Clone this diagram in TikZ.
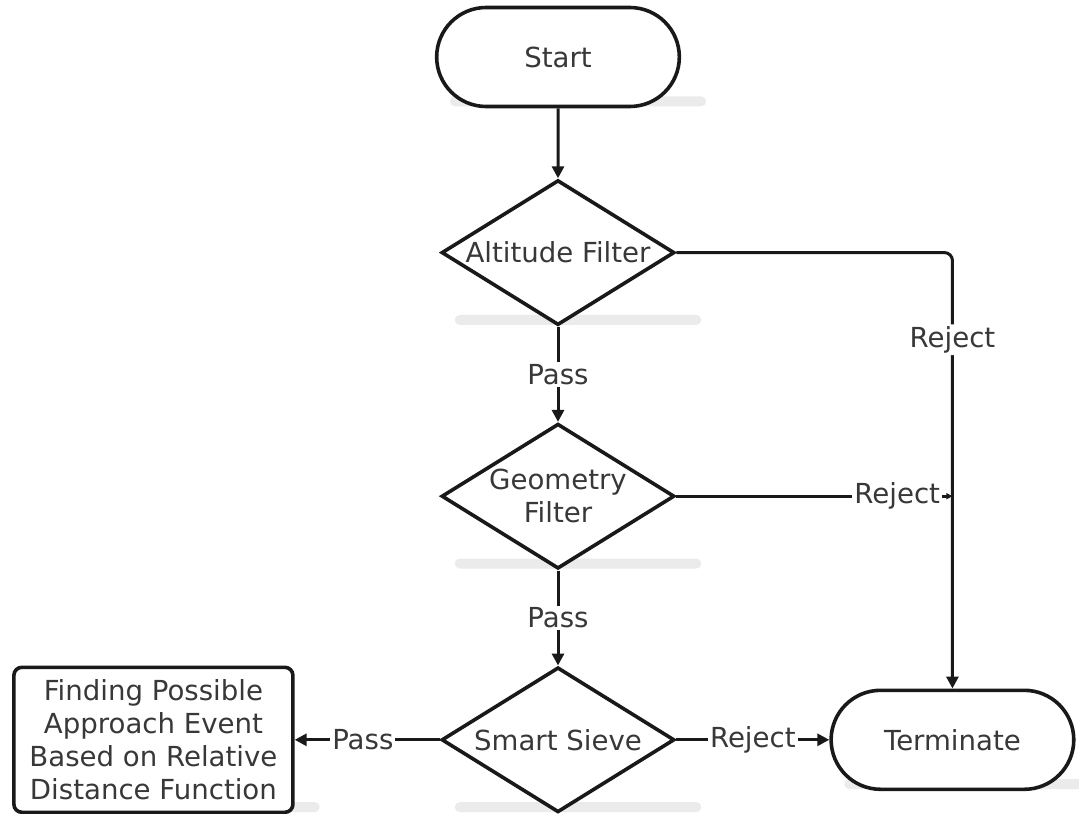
\documentclass[tikz,border=0pt]{standalone}
\usepackage{fontspec}
\setmainfont{DejaVu Sans}
\usetikzlibrary{
  arrows.meta,
  positioning,
  calc,
  backgrounds,
  shapes.geometric,
  shapes.misc
}
\newcommand{\flowfont}{\fontsize{13.8}{16.5}\selectfont}
\tikzset{
  terminal/.style  = {draw=black!90, line width=1.8pt, rounded rectangle,
                      fill=white, minimum width=128pt, minimum height=49.5pt,
                      font=\flowfont, text=black!78},
  decision/.style  = {draw=black!90, line width=1.8pt, diamond, aspect=1.6,
                      fill=white, inner sep=0pt, minimum width=116.5pt,
                      minimum height=72.5pt, align=center,
                      font=\flowfont, text=black!78},
  process/.style   = {draw=black!90, line width=1.8pt, rectangle,
                      rounded corners=4pt, fill=white, minimum width=139.5pt,
                      minimum height=72.5pt, align=center, inner sep=2pt,
                      font=\flowfont, text=black!78},
  flow/.style      = {-{Triangle[length=6pt,width=6pt]}, line width=1.5pt,
                      draw=black!90},
  tinyflow/.style  = {-{Triangle[length=3pt,width=3pt]}, line width=1.5pt,
                      draw=black!90},
  lbl/.style       = {fill=white, inner sep=1pt, font=\flowfont, text=black!78},
  shadowband/.style= {fill=black!8, rounded corners=2.5pt},
}

\begin{document}
\begin{tikzpicture}[x=0.5pt, y=-0.5pt]
\useasboundingbox (0,0) rectangle (1079,813);

\node[terminal] (start) at (558,57) {Start};
\node[decision, below=35pt of start] (alt) {Altitude Filter};
\node[decision, below=47.5pt of alt] (geo) {Geometry\\Filter};
\node[decision, below=47.5pt of geo] (sieve) {Smart Sieve};
\node[terminal, right=76.5pt of sieve] (term) {Terminate};
\node[process, left=72.5pt of sieve] (find)
   {Finding Possible\\Approach Event\\Based on Relative\\Distance Function};

\coordinate (joint) at (term.north |- geo.east);

\draw[flow] (start) -- (alt);
\draw[flow] (alt) -- node[lbl] {Pass} (geo);
\draw[flow] (geo) -- node[lbl] {Pass} (sieve);
\draw[flow, rounded corners=4pt] (alt.east) -| node[lbl, pos=0.6] {Reject} (term.north);
\draw[tinyflow] (geo.east) -- node[lbl, pos=0.8] {Reject} (joint);
\draw[flow] (sieve) -- node[lbl] {Reject} (term);
\draw[flow] (sieve) -- node[lbl, pos=0.53] {Pass} (find);

% flat shadows under the shapes
\begin{scope}[on background layer]
  \foreach \n in {start, alt, geo, sieve, term, find}
    \fill[shadowband] ($(\n.west |- \n.south)+(7.5pt,1pt)$)
                      rectangle ($(\n.east |- \n.south)+(12.5pt,6pt)$);
\end{scope}
\end{tikzpicture}
\end{document}
